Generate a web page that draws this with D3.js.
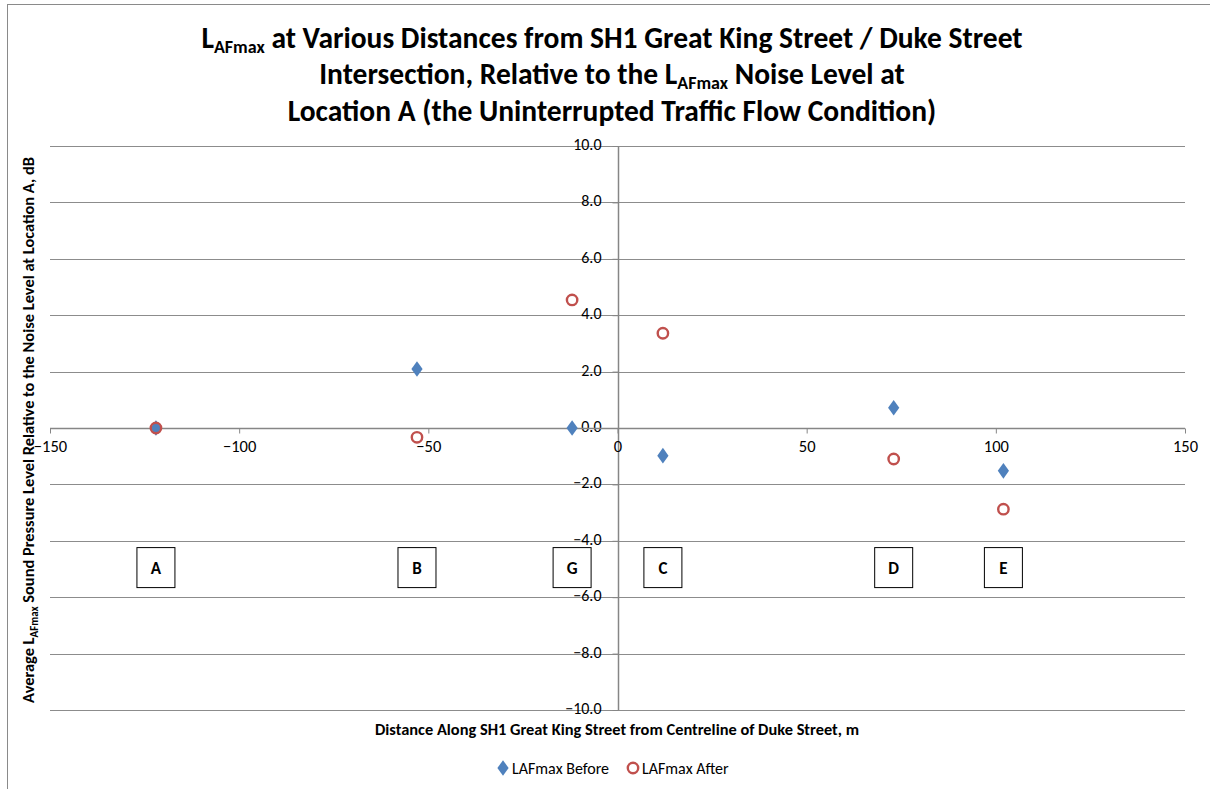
<!DOCTYPE html>
<html>
<head>
<meta charset="utf-8">
<script src="https://cdn.jsdelivr.net/npm/d3@7"></script>
<style>
  html, body { margin: 0; padding: 0; background: #fff; }
  svg { display: block; }
  text { font-family: Carlito, Lato, "Open Sans", sans-serif; fill: #000; }
</style>
</head>
<body>
<svg id="chart" width="1210" height="789"></svg>
<script>
// ---- data ----
const locations = ["A", "B", "G", "C", "D", "E"];
const distances = [-122, -53, -12, 12, 73, 102];
const before = [0.0, 2.09, 0.0, -0.98, 0.72, -1.52];
const after = [0.0, -0.33, 4.54, 3.36, -1.10, -2.88];
const xTicks = [-150, -100, -50, 0, 50, 100, 150];
const yTicks = [-10, -8, -6, -4, -2, 0, 2, 4, 6, 8, 10];
const labelBoxLevel = -4.95;
const seriesNames = ["LAFmax Before", "LAFmax After"];

// ---- layout ----
const svg = d3.select("#chart");
const W = 1210, H = 789;
const plot = { left: 50, right: 1185, top: 146, bottom: 710 };
const blue = "#4F81BD", red = "#C0504D", gridCol = "#8c8c8c", axisCol = "#868686";
const FONT = "Carlito, Lato, 'Open Sans', sans-serif";

svg.append("rect").attr("x", 7.5).attr("y", 4.5).attr("width", W).attr("height", H)
  .attr("fill", "#fff").attr("stroke", "#8a8a8a").attr("stroke-width", 1);

const x = d3.scaleLinear().domain([-150, 150]).range([plot.left, plot.right]);
const y = d3.scaleLinear().domain([-10, 10]).range([plot.bottom, plot.top]);

// gridlines
svg.append("g").selectAll("line").data(yTicks.filter(d => d !== 0)).join("line")
  .attr("x1", plot.left).attr("x2", plot.right)
  .attr("y1", d => Math.round(y(d)) + 0.5).attr("y2", d => Math.round(y(d)) + 0.5)
  .attr("stroke", gridCol).attr("stroke-width", 1);

// y axis (at x = 0)
const yAxis = d3.axisLeft(y).tickValues(yTicks).tickFormat(d3.format(".1f")).tickSize(6).tickPadding(11);
const gy = svg.append("g").attr("transform", `translate(${Math.round(x(0)) + 0.5},0)`).call(yAxis);
gy.select(".domain").attr("stroke", axisCol).attr("stroke-width", 1.5).attr("d", `M0,${plot.top}V${plot.bottom}`);
gy.selectAll(".tick line").attr("stroke", axisCol);
gy.selectAll(".tick text").attr("font-size", 16).attr("dy", "0.22em").attr("fill", "#000").style("font-family", FONT);

// x axis (at y = 0)
const xAxis = d3.axisBottom(x).tickValues(xTicks).tickFormat(d3.format("d")).tickSize(5).tickPadding(7);
const gx = svg.append("g").attr("transform", `translate(0,${Math.round(y(0)) + 0.5})`).call(xAxis);
gx.select(".domain").attr("stroke", axisCol).attr("stroke-width", 1.5).attr("d", `M${plot.left},0H${plot.right}`);
gx.selectAll(".tick line").attr("stroke", axisCol);
gx.selectAll(".tick text").attr("font-size", 16.5).attr("fill", "#000").style("font-family", FONT);

// location label boxes
const boxes = svg.append("g").selectAll("g").data(locations).join("g")
  .attr("transform", (d, i) => `translate(${x(distances[i])},${y(labelBoxLevel)})`);
boxes.append("rect").attr("x", -19).attr("y", -20).attr("width", 38).attr("height", 40)
  .attr("fill", "#fff").attr("stroke", "#000").attr("stroke-width", 1);
boxes.append("text").attr("text-anchor", "middle").attr("dy", "0.36em")
  .attr("font-size", 17).attr("font-weight", "bold").text(d => d);

// series
const diamond = d3.symbol().type(d3.symbolDiamond).size(70);
svg.append("g").selectAll("path").data(before).join("path")
  .attr("d", diamond)
  .attr("transform", (d, i) => `translate(${x(distances[i])},${y(d)}) scale(1.25,1)`)
  .attr("fill", blue);
svg.append("g").selectAll("circle").data(after).join("circle")
  .attr("cx", (d, i) => x(distances[i])).attr("cy", d => y(d)).attr("r", 5.2)
  .attr("fill", "none").attr("stroke", red).attr("stroke-width", 2.4);

// title
const title = svg.append("text").attr("text-anchor", "middle").attr("font-weight", "bold").attr("font-size", 29.5);
const t1 = title.append("tspan").attr("x", 612).attr("y", 48);
t1.append("tspan").text("L");
t1.append("tspan").attr("font-size", 18).attr("dy", 5).text("AFmax");
t1.append("tspan").attr("dy", -5).text(" at Various Distances from SH1 Great King Street / Duke Street");
const t2 = title.append("tspan").attr("x", 612).attr("y", 84);
t2.append("tspan").text("Intersection, Relative to the L");
t2.append("tspan").attr("font-size", 18).attr("dy", 5).text("AFmax");
t2.append("tspan").attr("dy", -5).text(" Noise Level at");
title.append("tspan").attr("x", 612).attr("y", 121).text("Location A (the Uninterrupted Traffic Flow Condition)");

// y axis title
const yt = svg.append("text").attr("text-anchor", "middle").attr("font-weight", "bold").attr("font-size", 16.4)
  .attr("transform", `translate(34,${(plot.top + plot.bottom) / 2 + 2}) rotate(-90)`);
yt.append("tspan").text("Average L");
yt.append("tspan").attr("font-size", 11).attr("dy", 4).text("AFmax");
yt.append("tspan").attr("dy", -4).text(" Sound Pressure Level Relative to the Noise Level at Location A, dB");

// x axis title
svg.append("text").attr("x", 617).attr("y", 735).attr("text-anchor", "middle")
  .attr("font-weight", "bold").attr("font-size", 16.4)
  .text("Distance Along SH1 Great King Street from Centreline of Duke Street, m");

// legend
const lg = svg.append("g").attr("transform", "translate(0,768)");
lg.append("path").attr("d", diamond).attr("transform", "translate(503,0) scale(1.25,1)").attr("fill", blue);
lg.append("text").attr("x", 512).attr("dy", "0.35em").attr("font-size", 16).text(seriesNames[0]);
lg.append("circle").attr("cx", 633).attr("cy", 0).attr("r", 5.2).attr("fill", "none").attr("stroke", red).attr("stroke-width", 2.4);
lg.append("text").attr("x", 642).attr("dy", "0.35em").attr("font-size", 16).text(seriesNames[1]);
</script>
</body>
</html>
